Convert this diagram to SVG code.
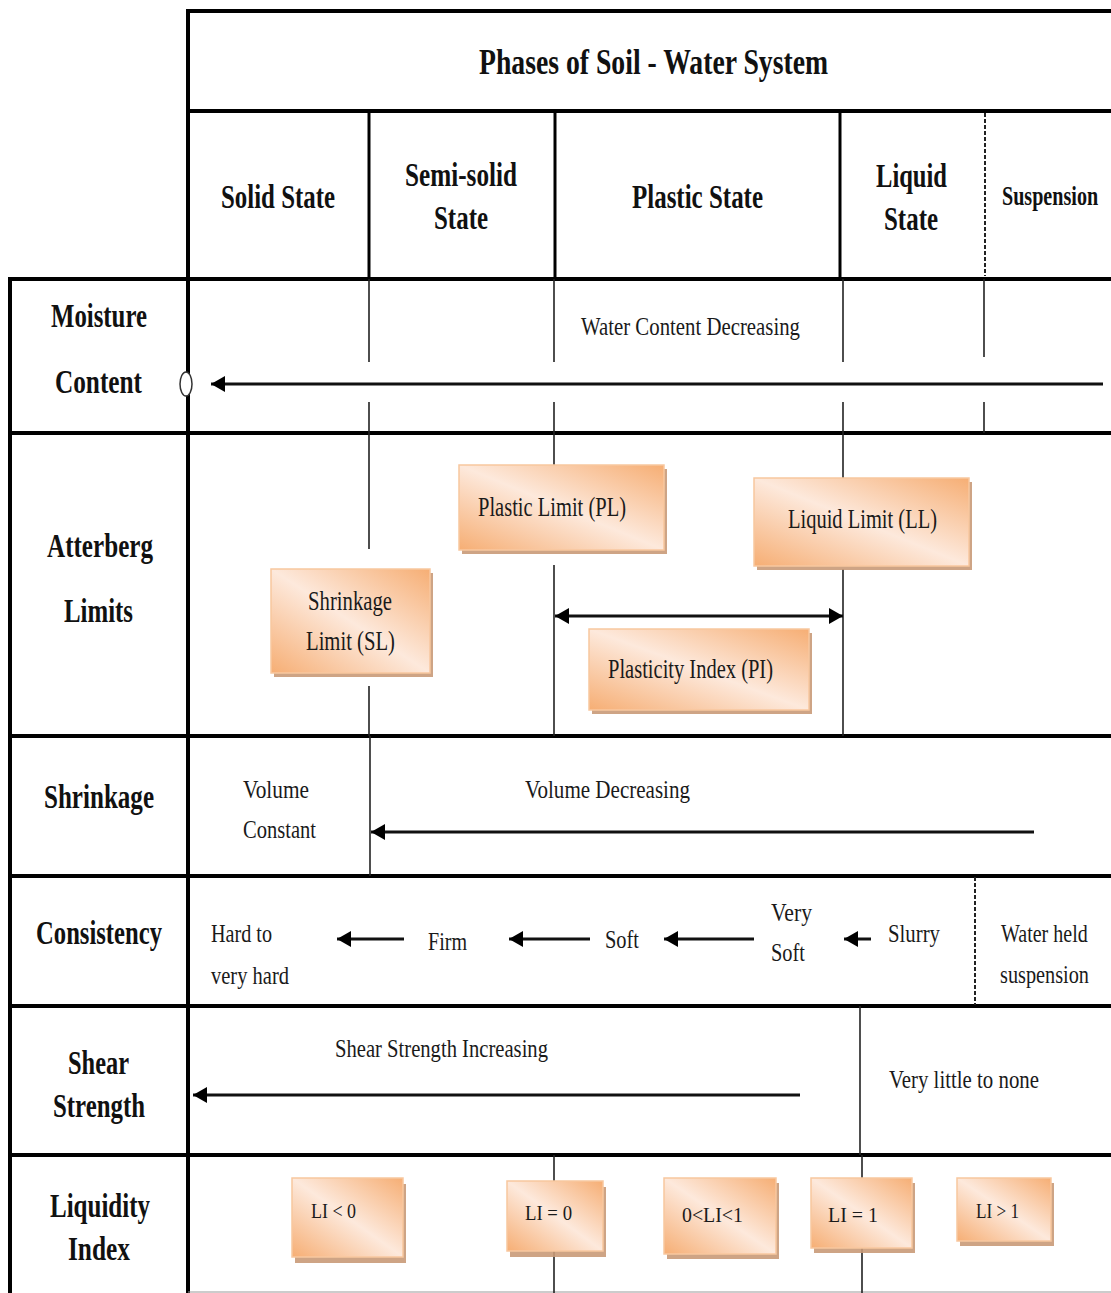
<svg xmlns="http://www.w3.org/2000/svg" width="1111" height="1293" viewBox="0 0 1111 1293">
  <style>
    .hd { font-family: "Liberation Serif", "Times New Roman", serif; font-weight: bold; font-size: 34px; fill: #111; }
    .tx { font-family: "Liberation Serif", "Times New Roman", serif; font-size: 26px; fill: #1a1a1a; }
    .bx { font-family: "Liberation Serif", "Times New Roman", serif; font-size: 27px; fill: #1a1a1a; }
    .li { font-family: "Liberation Serif", "Times New Roman", serif; font-size: 22px; fill: #1a1a1a; }
    .thick { stroke: #000; stroke-width: 4; fill: none; }
    .mid { stroke: #000; stroke-width: 3; fill: none; }
    .thin { stroke: #222; stroke-width: 1.6; fill: none; }
    .dash { stroke: #222; stroke-width: 2; stroke-dasharray: 4 2; fill: none; }
    .arr { stroke: #111; stroke-width: 3; fill: none; }
    .shadow { fill: #c99a78; opacity: 0.9; }
    .box { fill: url(#og); stroke: #f8c79f; stroke-width: 1.5; }
  </style>
  <defs>
    <linearGradient id="og" x1="1" y1="0" x2="0" y2="1">
      <stop offset="0" stop-color="#f6ae74"/>
      <stop offset="0.5" stop-color="#fde9dc"/>
      <stop offset="1" stop-color="#f6ae74"/>
    </linearGradient>
    <marker id="ah" viewBox="0 0 14 16" refX="14" refY="8" markerWidth="14" markerHeight="16" markerUnits="userSpaceOnUse" orient="auto-start-reverse">
      <path d="M0,0 L14,8 L0,16 z" fill="#000"/>
    </marker>
  </defs>
  <rect width="1111" height="1293" fill="#fff"/>

  <g id="grid">
    <line class="thick" x1="188" y1="11" x2="1111" y2="11"/>
    <line class="thick" x1="188" y1="111" x2="1111" y2="111"/>
    <line class="thick" x1="188" y1="9" x2="188" y2="1293"/>
    <line class="mid" x1="369" y1="111" x2="369" y2="278"/>
    <line class="mid" x1="555" y1="111" x2="555" y2="278"/>
    <line class="mid" x1="840" y1="111" x2="840" y2="278"/>
    <line class="dash" x1="985" y1="113" x2="985" y2="276"/>
    <line class="thick" x1="8" y1="279" x2="1111" y2="279"/>
    <line class="thick" x1="8" y1="433" x2="1111" y2="433"/>
    <line class="thick" x1="8" y1="736" x2="1111" y2="736"/>
    <line class="thick" x1="8" y1="876" x2="1111" y2="876"/>
    <line class="thick" x1="8" y1="1006" x2="1111" y2="1006"/>
    <line class="thick" x1="8" y1="1155" x2="1111" y2="1155"/>
    <line class="thick" x1="10" y1="277" x2="10" y2="1293"/>
    <line stroke="#999" stroke-width="1" x1="188" y1="1292" x2="1111" y2="1292"/>
    <path class="thin" d="M369,279 V362 M369,402 V433 M554,279 V362 M554,402 V433 M843,279 V362 M843,402 V433 M984,279 V357 M984,402 V433"/>
    <path class="thin" d="M369,433 V549 M369,686 V736 M554,433 V465 M554,565 V736 M843,433 V478 M843,569 V736"/>
    <path class="thin" d="M370,736 V876"/>
    <line class="dash" x1="975" y1="877" x2="975" y2="1005"/>
    <path class="thin" d="M860,1006 V1155"/>
    <path class="thin" d="M554,1155 V1181 M554,1251 V1293 M862,1155 V1178 M862,1248 V1293"/>
  </g>

  <g id="header">
    <text class="hd" x="479" y="74" style="font-size:36px" textLength="349" lengthAdjust="spacingAndGlyphs">Phases of Soil - Water System</text>
    <text class="hd" x="221" y="208" textLength="114" lengthAdjust="spacingAndGlyphs">Solid State</text>
    <text class="hd" x="405" y="186" textLength="112" lengthAdjust="spacingAndGlyphs">Semi-solid</text>
    <text class="hd" x="434" y="229" textLength="54" lengthAdjust="spacingAndGlyphs">State</text>
    <text class="hd" x="632" y="208" textLength="131" lengthAdjust="spacingAndGlyphs">Plastic State</text>
    <text class="hd" x="876" y="187" textLength="71" lengthAdjust="spacingAndGlyphs">Liquid</text>
    <text class="hd" x="884" y="230" textLength="54" lengthAdjust="spacingAndGlyphs">State</text>
    <text class="hd" style="font-size:27px" transform="translate(1002,205) scale(0.745,1)">Suspension</text>
  </g>

  <g id="row-labels">
    <text class="hd" x="51" y="327" textLength="96" lengthAdjust="spacingAndGlyphs">Moisture</text>
    <text class="hd" x="55" y="393" textLength="87" lengthAdjust="spacingAndGlyphs">Content</text>
    <text class="hd" x="47" y="557" textLength="106" lengthAdjust="spacingAndGlyphs">Atterberg</text>
    <text class="hd" x="64" y="622" textLength="69" lengthAdjust="spacingAndGlyphs">Limits</text>
    <text class="hd" x="44" y="808" textLength="110" lengthAdjust="spacingAndGlyphs">Shrinkage</text>
    <text class="hd" x="36" y="944" textLength="126" lengthAdjust="spacingAndGlyphs">Consistency</text>
    <text class="hd" x="68" y="1074" textLength="61" lengthAdjust="spacingAndGlyphs">Shear</text>
    <text class="hd" x="53" y="1117" textLength="92" lengthAdjust="spacingAndGlyphs">Strength</text>
    <text class="hd" x="50" y="1217" textLength="100" lengthAdjust="spacingAndGlyphs">Liquidity</text>
    <text class="hd" x="68" y="1260" textLength="62" lengthAdjust="spacingAndGlyphs">Index</text>
  </g>

  <g id="cell-texts">
    <text class="tx" x="581" y="335" textLength="219" lengthAdjust="spacingAndGlyphs">Water Content Decreasing</text>
    <text class="tx" x="243" y="798" textLength="66" lengthAdjust="spacingAndGlyphs">Volume</text>
    <text class="tx" x="243" y="838" textLength="73" lengthAdjust="spacingAndGlyphs">Constant</text>
    <text class="tx" x="525" y="798" textLength="165" lengthAdjust="spacingAndGlyphs">Volume Decreasing</text>
    <text class="tx" x="211" y="942" textLength="61" lengthAdjust="spacingAndGlyphs">Hard to</text>
    <text class="tx" x="211" y="984" textLength="78" lengthAdjust="spacingAndGlyphs">very hard</text>
    <text class="tx" x="428" y="950" textLength="39" lengthAdjust="spacingAndGlyphs">Firm</text>
    <text class="tx" x="605" y="948" textLength="34" lengthAdjust="spacingAndGlyphs">Soft</text>
    <text class="tx" x="771" y="921" textLength="41" lengthAdjust="spacingAndGlyphs">Very</text>
    <text class="tx" x="771" y="961" textLength="34" lengthAdjust="spacingAndGlyphs">Soft</text>
    <text class="tx" x="888" y="942" textLength="52" lengthAdjust="spacingAndGlyphs">Slurry</text>
    <text class="tx" transform="translate(1001,942) scale(0.77,1)">Water held</text>
    <text class="tx" transform="translate(1000,983) scale(0.78,1)">suspension</text>
    <text class="tx" x="335" y="1057" textLength="213" lengthAdjust="spacingAndGlyphs">Shear Strength Increasing</text>
    <text class="tx" x="889" y="1088" textLength="150" lengthAdjust="spacingAndGlyphs">Very little to none</text>
  </g>

  <g id="node-pl">
    <rect class="shadow" x="462" y="469" width="205" height="85"/>
    <rect class="box" x="459" y="465" width="205" height="85"/>
    <text class="bx" x="478" y="516" textLength="148" lengthAdjust="spacingAndGlyphs">Plastic Limit (PL)</text>
  </g>
  <g id="node-ll">
    <rect class="shadow" x="757" y="482" width="215" height="88"/>
    <rect class="box" x="754" y="478" width="215" height="88"/>
    <text class="bx" x="788" y="528" textLength="149" lengthAdjust="spacingAndGlyphs">Liquid Limit (LL)</text>
  </g>
  <g id="node-sl">
    <rect class="shadow" x="274" y="573" width="159" height="104"/>
    <rect class="box" x="271" y="569" width="159" height="104"/>
    <text class="bx" x="308" y="610" textLength="84" lengthAdjust="spacingAndGlyphs">Shrinkage</text>
    <text class="bx" x="306" y="650" textLength="89" lengthAdjust="spacingAndGlyphs">Limit (SL)</text>
  </g>
  <g id="node-pi">
    <rect class="shadow" x="592" y="633" width="220" height="81"/>
    <rect class="box" x="589" y="629" width="220" height="81"/>
    <text class="bx" x="608" y="678" textLength="165" lengthAdjust="spacingAndGlyphs">Plasticity Index (PI)</text>
  </g>

  <g id="node-li-lt0">
    <rect class="shadow" x="295" y="1184" width="111" height="79"/>
    <rect class="box" x="292" y="1178" width="111" height="79"/>
    <text class="li" x="311" y="1218" textLength="45" lengthAdjust="spacingAndGlyphs">LI &lt; 0</text>
  </g>
  <g id="node-li-eq0">
    <rect class="shadow" x="510" y="1187" width="96" height="70"/>
    <rect class="box" x="507" y="1181" width="96" height="70"/>
    <text class="li" x="525" y="1220" textLength="47" lengthAdjust="spacingAndGlyphs">LI = 0</text>
  </g>
  <g id="node-li-mid">
    <rect class="shadow" x="667" y="1183" width="112" height="76"/>
    <rect class="box" x="664" y="1178" width="112" height="76"/>
    <text class="li" x="682" y="1222" textLength="61" lengthAdjust="spacingAndGlyphs">0&lt;LI&lt;1</text>
  </g>
  <g id="node-li-eq1">
    <rect class="shadow" x="814" y="1183" width="101" height="70"/>
    <rect class="box" x="811" y="1178" width="101" height="70"/>
    <text class="li" x="828" y="1222" textLength="50" lengthAdjust="spacingAndGlyphs">LI = 1</text>
  </g>
  <g id="node-li-gt1">
    <rect class="shadow" x="960" y="1183" width="94" height="63"/>
    <rect class="box" x="957" y="1178" width="94" height="63"/>
    <text class="li" x="976" y="1218" textLength="43" lengthAdjust="spacingAndGlyphs">LI &gt; 1</text>
  </g>

  <g id="connectors">
    <line class="arr" stroke="#333" x1="1103" y1="384" x2="211" y2="384" marker-end="url(#ah)"/>
    <ellipse cx="186" cy="384" rx="6" ry="12" fill="#fff" stroke="#333" stroke-width="1.5"/>
    <line class="arr" x1="555" y1="616" x2="843" y2="616" marker-start="url(#ah)" marker-end="url(#ah)"/>
    <line class="arr" x1="1034" y1="832" x2="371" y2="832" marker-end="url(#ah)"/>
    <line class="arr" x1="404" y1="939" x2="337" y2="939" marker-end="url(#ah)"/>
    <line class="arr" x1="590" y1="939" x2="509" y2="939" marker-end="url(#ah)"/>
    <line class="arr" x1="754" y1="939" x2="664" y2="939" marker-end="url(#ah)"/>
    <line class="arr" x1="871" y1="939" x2="844" y2="939" marker-end="url(#ah)"/>
    <line class="arr" x1="800" y1="1095" x2="193" y2="1095" marker-end="url(#ah)"/>
  </g>
</svg>
